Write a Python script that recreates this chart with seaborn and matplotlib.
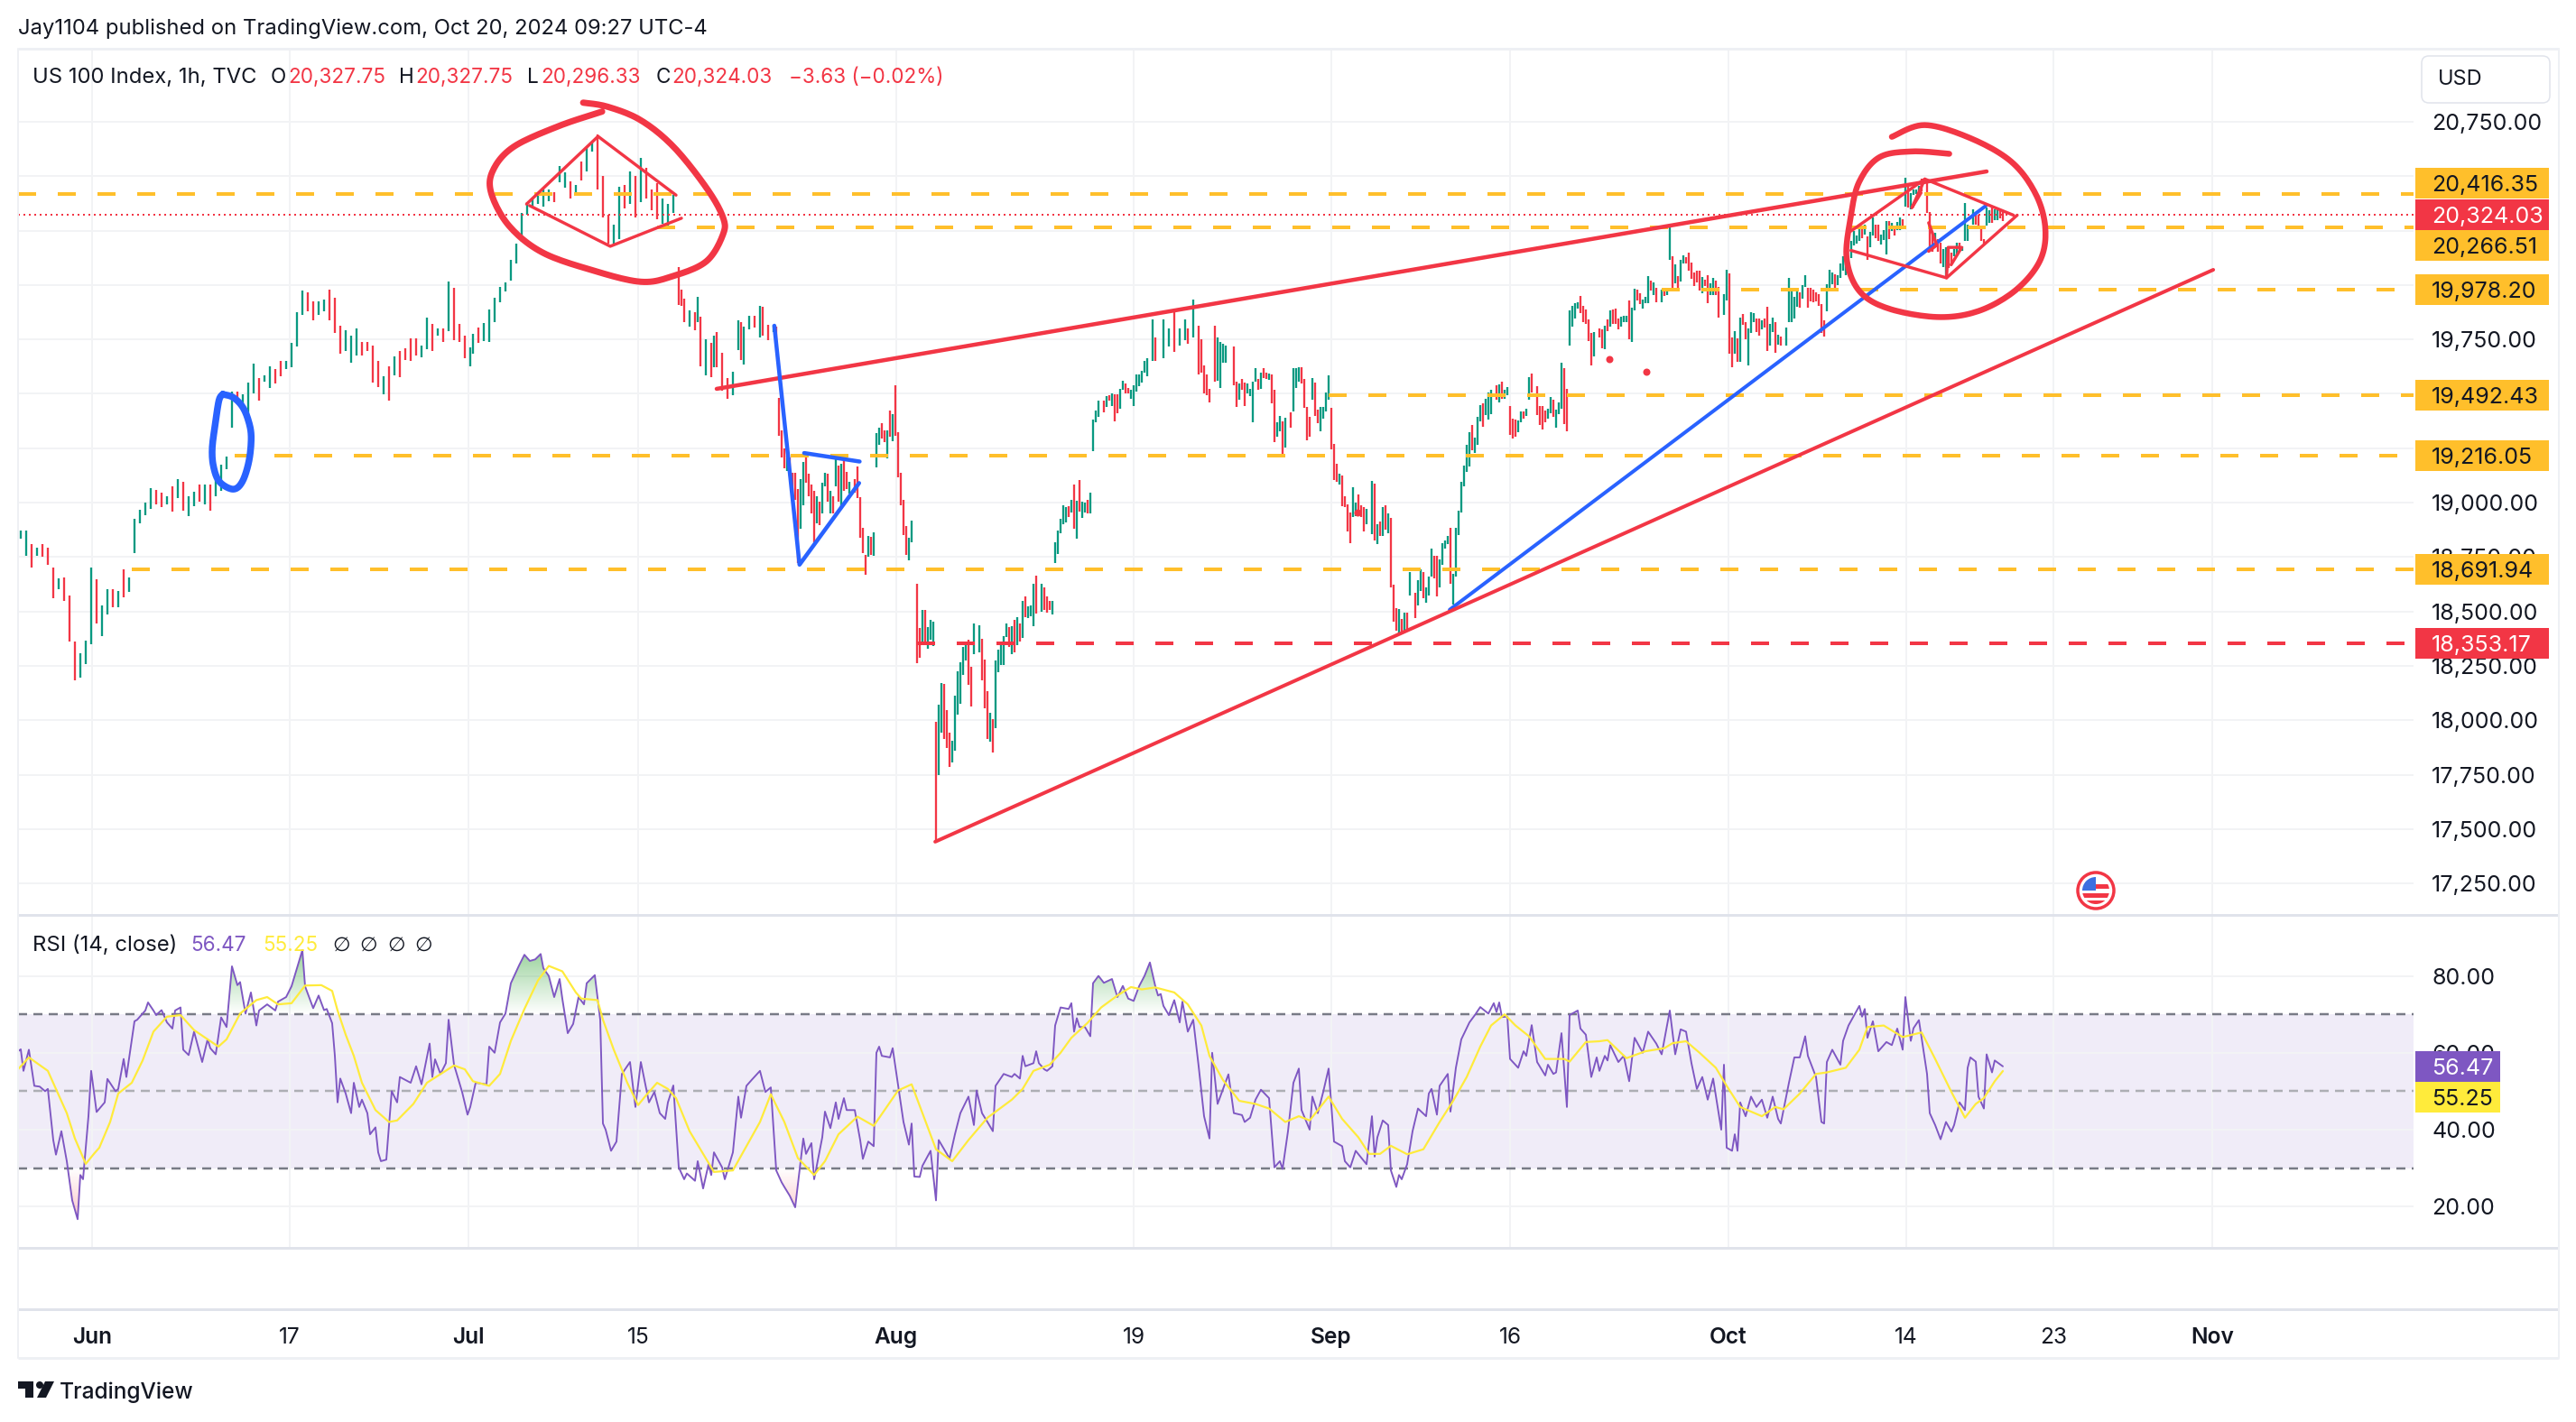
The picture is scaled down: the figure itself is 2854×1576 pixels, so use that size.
import numpy as np
import matplotlib
matplotlib.use("Agg")
import matplotlib.pyplot as plt
from matplotlib.patches import Rectangle, Circle, Polygon, FancyBboxPatch
from matplotlib.path import Path
import seaborn as sns

# ---------- price bars (bar number, high, low, direction 1=up 0=down) ----------
x1 = list(range(1, 166, 2))
hi1 = [18873,18873,18811,18792,18811,18794,18703,18653,18657,18574,
18363,18307,18367,18703,18649,18526,18601,18604,18595,18695,
18657,18927,18969,19002,19068,19060,19044,19030,19073,19110,
19096,19031,19052,19082,19085,19082,19103,19176,19210,19509,
19509,19498,19553,19637,19574,19587,19625,19615,19650,19653,
19733,19874,19974,19965,19924,19924,19933,19978,19940,19812,
19791,19767,19799,19737,19737,19720,19650,19581,19625,19670,
19695,19708,19754,19754,19722,19850,19820,19802,19802,20015,
19989,19823,19767]
lo1 = [18833,18754,18700,18757,18753,18716,18562,18601,18549,18360,
18185,18197,18259,18349,18443,18388,18487,18518,18520,18567,
18591,18767,18907,18944,18972,18992,18979,18992,18958,19020,
18965,18937,18985,19006,18992,18965,19031,19055,19152,19343,
19456,19421,19401,19500,19470,19556,19529,19546,19581,19615,
19622,19719,19864,19878,19837,19864,19878,19837,19778,19684,
19698,19643,19677,19677,19698,19550,19532,19498,19470,19587,
19576,19657,19653,19677,19666,19705,19698,19767,19740,19788,
19747,19740,19664]
up1 = ("1101000100" "0111011010" "1111100101" "0110101111" "0111011001"
       "1110011000" "1110000101" "0000110101" "000")

x2 = [167,168,170,172,174,176,178,180,182,184,
186,188,190,192,194,196,198,200,202,204,
206,208,210,212,214,216,218,220,222,224,
226,228,230,232,234,236,238,240,242,244,
245,246,248,250,251,252,254,256,257,258,
260,262,264,266,267,268,270,272,274,275,
277,279,280,281,282,283,284,285,286,287,
288,289,290,291,292,293,294,295,296,297,
298,299,300,301,302,303,304,305,306,307,
309,310,311,312,313,314,315,316,317,318,
319,320,321,322,323,324,325,326,327,328,
329,330]
hi2 = [19713,19776,19803,19824,19887,19942,19991,20014,20115,20191,
20330,20379,20399,20427,20441,20441,20427,20545,20517,20476,
20458,20568,20635,20656,20690,20503,20323,20277,20452,20458,
20524,20503,20586,20538,20441,20469,20399,20372,20413,20081,
19979,19938,19884,19875,19945,19855,19751,19734,19769,19783,
19688,19571,19600,19838,19828,19808,19859,19859,19903,19898,
19817,19817,19810,19480,19332,19249,19214,19207,19138,19138,
19062,19110,19189,19224,19134,19083,19055,19031,19004,19090,
19138,19134,19055,19031,19221,19169,19180,19194,19141,19094,
19110,19166,19027,18886,18760,18847,18844,18865,19321,19343,
19364,19332,19332,19422,19406,19540,19322,19138,19013,18894,
18840,18919]
lo2 = [19626,19686,19734,19741,19738,19831,19921,19970,20022,20097,
20198,20323,20358,20374,20362,20386,20379,20472,20448,20397,
20420,20480,20524,20614,20441,20309,20191,20191,20212,20351,
20372,20309,20383,20399,20344,20302,20282,20272,20330,19907,
19905,19831,19810,19792,19831,19627,19584,19575,19623,19623,
19515,19478,19492,19699,19655,19634,19796,19803,19758,19769,
19748,19783,19734,19307,19207,19156,19145,19122,19013,19013,
18722,18882,18986,19090,19031,18951,18817,18903,18896,18951,
19076,19004,18951,18951,19076,19004,18972,19055,19062,19041,
19048,19020,18837,18767,18667,18753,18761,18757,19162,19266,
19293,19277,19203,19304,19281,19307,19117,18986,18850,18761,
18733,18817]
up2 = ("1101111111" "1111110110" "1011000110" "1010001110" "0010101010"
       "0011011010" "0100001000" "0110000101" "1010101001" "0000010111"
       "0010100000" "11")

x3 = [332,333,334,335,336,337,338,339,340,341,
342,343,344,345,346,347,348,349,350,351,
352,353,355,356,357,358,359,360,361,362,
363,364,365,366,367,368,369,370,371,372,
373,374,375,376,378,379,380,381,382,383,
384,385,386,387,388,389,390,391,392,393,
394,395,396,397,398,399,401,402,403,404,
405,406,407,408,409,410,411,412,413,414,
415,416,417,419,420,423,425,427,429,431,
432,434,436,437,438,439,440,442,443,444,
445,446,449,450,451,452,453,454,455,456,
457,458,459,460,461,462,463,464,465,466,
467,468,470,471,472,473,474,475,476,477,
478,479,480,481,482,483,484,485,486,487,
488,489,490,491,492]
hi3 = [18628,18426,18505,18505,18427,18462,18455,17994,18073,18170,
18166,18047,17944,17906,18113,18226,18266,18337,18345,18370,
18247,18445,18438,18376,18280,18134,18034,18004,18276,18323,
18359,18385,18445,18427,18433,18462,18473,18445,18549,18569,
18523,18528,18628,18666,18628,18609,18569,18549,18549,18816,
18872,18927,18988,18981,18985,19014,19084,19009,19105,19005,
19000,19014,19047,19381,19424,19467,19467,19491,19493,19503,
19496,19496,19524,19560,19549,19529,19517,19539,19589,19589,
19607,19650,19665,19840,19760,19840,19800,19881,19800,19840,
19800,19935,19813,19750,19632,19591,19524,19813,19760,19740,
19730,19720,19719,19557,19546,19567,19553,19549,19524,19557,
19620,19567,19599,19620,19599,19593,19589,19520,19371,19400,
19374,19391,19413,19617,19620,19622,19624,19567,19438,19396,
19574,19550,19428,19441,19438,19507,19584,19437,19271,19177,
19134,19124,19028,18992,18955]
lo3 = [18263,18287,18345,18345,18330,18370,18342,17439,17747,17944,
17913,17873,17784,17805,17861,18027,18076,18209,18276,18163,
18063,18304,18313,18183,18054,17913,17901,17851,17963,18220,
18256,18256,18383,18335,18304,18312,18345,18362,18380,18473,
18469,18478,18433,18492,18499,18506,18495,18509,18488,18721,
18766,18859,18901,18909,18935,18955,18881,18835,18957,18931,
18955,18952,18952,19238,19371,19396,19414,19438,19467,19446,
19374,19410,19431,19517,19500,19503,19479,19446,19510,19534,
19553,19596,19580,19651,19651,19665,19719,19692,19720,19746,
19730,19759,19589,19599,19503,19493,19460,19557,19560,19529,
19642,19642,19539,19438,19474,19517,19446,19503,19489,19371,
19557,19517,19521,19574,19567,19563,19456,19277,19305,19327,
19224,19255,19346,19420,19529,19557,19546,19434,19285,19305,
19471,19400,19367,19327,19388,19421,19471,19243,19105,19095,
19085,18985,18981,18869,18812]
up3 = ("0010111011" "0001111110" "0110001011" "1110101010" "1110100011"
       "1111010101" "1011110101" "0011001111" "1111011011" "0100000011"
       "1100100111" "1010010011" "0101110000" "1001111000" "10000")

x4 = [493,494,495,496,497,498,500,501,502,503,
504,505,506,507,508,509,510,511,512,513,
514,516,517,518,519,520,521,522,523,524,
525,526,527,528,529,530,531,532,533,534,
535,536,537,538,539,540,541,542,543,544,
546,547,548,549,550,551,552,553,554,555,
556,557,558,559,561,562,563,564,565,566,
567,568,569,570,571,572,573,574,575,576,
577,578,579,580,581,582,584,585,586,587,
588,589,590,591,592,593,594,595,596,597,
598,599,600,601,602,603,604,605,607,608,
609,610,611,612,613,614,615,616,617,618,
619,620,621,622,623,624,625,626,627,628,
630,631,632,633,634,635,636,637,638,639,
640,641,642,643,644,645,646,647,648,649,
650,651,653,654,655,656,657,658,659,660]
hi4 = [19070,19001,19036,18987,18980,18971,19098,19087,18900,18915,
18980,18990,18950,18929,18625,18514,18510,18465,18496,18494,
18680,18584,18642,18693,18680,18610,18662,18791,18755,18755,
18738,18812,18826,18846,18884,18672,18884,18962,19095,19170,
19264,19322,19357,19299,19394,19448,19455,19478,19506,19517,
19538,19543,19554,19518,19531,19444,19388,19382,19377,19419,
19419,19430,19575,19593,19534,19444,19444,19423,19430,19485,
19471,19427,19460,19644,19617,19524,19884,19904,19917,19921,
19948,19904,19886,19842,19780,19783,19801,19796,19813,19842,
19884,19889,19892,19845,19854,19859,19859,19928,19896,19983,
19979,19962,19935,19944,20041,20020,20011,19986,19979,19976,
19973,20267,20132,20094,20041,20114,20135,20128,20149,20103,
20059,20066,20066,20038,20025,20045,20008,20031,20022,19990,
19958,20070,20055,19759,19787,19755,19849,19866,19831,19801,
19875,19870,19845,19845,19838,19845,19900,19821,19849,19828,
19772,19762,19803,20031,19983,19946,19973,19965,20000,20045]
lo4 = [18935,18939,18960,18935,18867,18902,18856,18826,18808,18846,
18846,18877,18860,18611,18452,18411,18400,18404,18411,18411,
18572,18469,18528,18593,18561,18541,18572,18660,18653,18570,
18611,18714,18790,18810,18628,18531,18660,18852,18956,19074,
19142,19167,19240,19229,19264,19375,19350,19402,19381,19405,
19474,19462,19478,19478,19492,19312,19296,19303,19323,19368,
19386,19399,19471,19506,19402,19357,19337,19370,19386,19409,
19393,19344,19406,19433,19361,19329,19723,19810,19848,19893,
19870,19828,19821,19741,19630,19672,19759,19709,19706,19787,
19810,19820,19820,19796,19810,19831,19831,19751,19738,19884,
19931,19911,19893,19917,19917,19976,19953,19921,19921,19948,
19953,20117,19969,20008,19972,20018,20097,20097,20066,20027,
19997,20011,19976,19962,19997,19917,19955,19955,19955,19852,
19861,19931,19686,19624,19686,19647,19648,19817,19752,19630,
19780,19831,19783,19769,19796,19803,19697,19723,19783,19690,
19727,19720,19723,19831,19831,19848,19900,19897,19939,19990]
up4 = ("1100011010" "1010001010" "1011011100" "1111011111" "1101110111"
       "0101100011" "0110000011" "0111001111" "0000010010" "1000111011"
       "0011101010" "1101011000" "0001001100" "1100101001" "1100100110"
       "1011111011")

x5 = [661,662,663,664,665,666,667,668,669,670,
671,672,673,674,675,677,678,679,680,681,
682,683,684,685,686,687,688,689,690,691,
692,693,694,695,696,697,698,699,700,701,
702,703,705,706,707,708,709,710,711,712,
713,714,715,716,717,718,719,720,722,723,
724,725,726,727,728,729,730,731,732,733]
hi5 = [19986,19986,19978,19968,19959,19913,19837,20003,20072,20058,
20051,20044,20097,20131,20162,20201,20248,20228,20259,20259,
20279,20224,20245,20310,20279,20279,20231,20252,20293,20293,
20286,20265,20289,20310,20304,20492,20452,20424,20438,20441,
20456,20487,20480,20335,20231,20238,20210,20196,20165,20172,
20172,20148,20165,20196,20196,20176,20376,20279,20346,20321,
20324,20256,20213,20355,20342,20355,20348,20348,20342,20335]
lo5 = [19897,19927,19920,19927,19906,19778,19764,19879,19986,20003,
19975,20000,20031,20065,20044,20123,20180,20192,20203,20217,
20231,20116,20173,20227,20217,20203,20187,20207,20141,20210,
20248,20228,20252,20252,20266,20362,20355,20348,20413,20417,
20434,20431,20332,20155,20152,20176,20155,20100,20083,20033,
20079,20093,20134,20134,20162,20156,20201,20203,20277,20277,
20259,20203,20189,20272,20286,20286,20296,20296,20307,20293]
up5 = ("0000000111" "0111111110" "1011001110" "1011010111" "1000010011"
       "0011011110" "0001101100")

# ---------- RSI line (bar number, value) ----------
rsi_x1 = [0,1,2,4,6,8,10,11,13,14,16,18,20,22,23,24,26,27,29,32,33,36,37,39,40,43,44,47,48,50,
51,53,55,57,58,60,61,63,65,68,70,71,73,75,77,79,81,82,84,86,88,89,92,95,96,99,101,105,106,109,
111,113,114,116,117,118,119,121,123,124,126,127,129,130,132,133,134,136,138,140,141,145,147,149,152,153,154,156,158,159,
161,164,166,167,169,173,174,176,178,180,182,185,187,189,191,193,194,196,198,200,201,203,205,207,209,210,213,215,216,217,
219,221,223,226,228,230,233,235,237,239,240,242,244,246,247,250,251,253,255,256,257,260,261,264,266,267,269,271,274,276,
278,280,282,283,285,287,290,291,293,294,297,298,300,302,303,305,306,309,311,312,314,316,317,318,319,322,323,327,329,330,
331,333,334,337,339,340,344,346,348,351,353,354,356,358,360,361,364]
rsi_y1 = [60.4,60.9,55.3,60.8,51.4,51.2,50.0,50.6,37.3,33.5,39.6,31.8,21.6,16.7,28.2,27.1,43.5,55.3,44.6,47.1,53.2,50.0,50.6,58.4,53.7,68.2,68.6,71.0,73.1,71.0,
69.8,71.1,67.9,66.3,71.0,71.8,60.8,59.4,65.5,57.6,63.5,61.2,59.6,69.2,66.7,82.5,77.6,78.4,70.2,75.7,67.1,71.0,72.6,71.0,73.3,74.5,77.3,86.7,77.3,71.6,
74.9,71.1,71.4,67.7,59.2,47.1,53.3,49.4,44.3,52.2,45.9,47.8,44.3,38.8,40.6,34.1,31.8,32.2,50.0,47.1,53.7,52.2,56.5,51.8,62.4,53.7,58.3,54.5,57.3,68.6,
56.9,49.8,43.9,45.9,52.2,51.8,61.6,60.0,67.9,70.2,78.1,82.7,85.5,83.9,84.3,85.7,82.0,80.0,74.5,79.2,74.1,65.1,67.5,74.5,72.6,78.1,80.2,68.6,41.6,40.0,
34.5,36.9,54.5,57.6,45.9,57.6,47.1,49.8,44.3,42.8,47.1,51.5,30.2,27.1,28.6,26.7,31.8,24.7,31.0,28.2,34.1,30.2,27.1,34.1,48.6,43.1,51.4,53.0,55.3,49.8,
51.0,29.4,26.3,25.1,22.8,19.8,37.7,33.7,36.5,27.1,38.0,44.7,40.4,47.1,42.8,48.2,45.1,45.1,37.3,32.4,36.9,35.7,60.0,61.6,59.2,58.8,61.2,42.0,36.1,41.6,
27.8,27.7,30.6,34.5,21.6,37.3,32.5,38.8,44.3,48.6,41.2,50.2,44.3,42.0,39.6,51.4,54.5]
rsi_x2 = [367,368,370,371,372,375,376,377,379,380,382,383,385,388,389,390,391,392,394,396,397,399,401,404,406,408,410,412,414,416,
418,420,421,422,423,425,427,429,430,432,434,436,438,440,441,443,447,449,452,453,455,457,459,462,464,466,467,469,471,473,
474,477,478,480,482,484,486,489,490,492,494,498,500,501,502,504,506,507,509,510,511,513,515,517,520,521,522,524,525,528,
529,531,533,536,538,540,543,545,546,547,548,550,551,554,556,557,559,561,564,565,567,568,570,572,573,576,577,579,581,583,
584,586,587,588,591,593,595,597,600,602,605,607,610,612,614,616,618,620,622,624,626,629,630,631,633,634,635,636,638,640,
642,644,646,648,650,651,654,656,658,660,661,664,666,667,668,670,673,674,676,680,681,682,683,685,687,690,692,694,696,697,
699,700,702,705,706,708,710,712,714,715,717,719,720,721,723,724,726,727,729,730,733]
rsi_y2 = [53.7,54.5,53.3,59.2,56.5,57.3,60.4,57.3,55.7,55.3,56.5,67.1,71.8,71.4,72.9,65.5,69.0,66.7,66.7,64.3,78.1,80.0,78.2,79.2,74.5,77.4,74.1,73.5,77.3,80.0,
83.5,77.3,74.9,75.3,72.2,69.8,73.7,67.9,73.3,65.5,68.6,56.5,43.5,37.7,60.0,46.7,54.4,44.3,43.8,42.0,43.1,47.8,50.4,48.2,30.2,31.8,29.8,39.6,52.2,55.9,
45.1,40.0,48.6,44.3,49.8,55.9,36.9,35.7,31.8,30.2,34.5,31.0,43.5,33.0,38.0,42.4,41.2,29.4,25.1,28.2,27.1,31.0,39.6,45.5,43.5,49.4,50.6,43.9,51.4,54.5,
44.7,56.1,63.5,67.9,69.8,71.9,70.2,72.9,70.6,73.1,69.3,69.4,58.4,56.1,60.4,59.2,67.2,57.6,54.1,56.9,54.5,54.9,65.1,45.9,69.8,71.0,66.3,64.7,53.7,58.8,
55.3,59.2,58.0,62.0,57.6,59.2,52.6,63.9,60.0,65.5,62.4,59.6,71.0,59.6,66.1,65.5,57.3,50.6,53.7,47.8,53.3,40.0,56.9,35.3,34.5,38.8,34.5,47.1,43.5,48.6,
45.9,47.8,43.1,48.6,42.8,41.6,52.2,58.8,58.8,64.3,59.2,53.7,42.0,41.6,57.6,60.8,56.9,63.1,67.1,72.2,69.4,71.4,63.9,68.2,60.4,62.8,62.0,66.3,60.8,74.5,
63.1,66.4,68.5,54.5,44.3,41.2,37.5,42.0,39.5,41.2,47.1,45.1,56.1,58.8,57.7,48.6,45.5,59.6,54.9,58.0,56.47]

# ---------- RSI signal line ----------
sig_x = [0,4,7,11,14,18,21,25,28,30,34,37,42,46,50,55,60,65,70,74,77,82,88,92,96,101,106,112,116,118,
121,124,127,132,137,140,146,151,157,161,165,168,174,178,182,187,192,196,201,206,208,214,216,220,225,229,232,236,240,243,
248,253,257,264,269,274,278,283,288,294,298,303,310,316,320,325,330,334,339,345,351,358,367,371,375,381,385,389,395,400,
406,411,415,420,427,432,437,440,445,451,457,462,468,473,477,484,489,495,499,503,507,513,519,525,530,535,540,544,549,553,
558,564,571,573,579,584,587,594,601,608,611,616,621,627,631,636,644,649,652,658,664,668,675,680,683,689,696,703,708,714,
719,723,726,730,733]
sig_y = [55.7,58.8,57.3,55.3,50.6,44.3,37.7,31.1,33.7,35.3,42.0,49.4,52.2,58.0,65.5,69.4,69.8,65.9,63.5,61.6,63.5,70.2,73.7,74.5,72.6,72.9,77.5,77.6,76.1,71.0,
64.7,59.2,52.2,45.1,42.0,42.4,46.7,52.2,54.9,56.7,55.7,52.6,51.4,54.5,63.1,71.4,78.8,82.6,81.2,75.7,74.1,73.7,68.6,60.8,52.2,46.4,49.0,52.2,50.6,48.2,
39.6,33.7,29.0,29.4,35.7,42.0,49.2,42.0,32.6,28.2,31.8,38.8,43.4,41.0,45.1,50.2,51.8,44.3,34.9,31.8,37.3,43.1,47.8,50.6,55.3,56.9,60.0,63.9,67.8,71.8,
74.9,77.1,76.5,77.0,75.7,72.6,67.1,59.2,52.9,47.5,46.7,45.5,42.0,43.5,42.4,48.6,42.8,38.0,33.7,33.7,35.8,33.6,34.9,42.0,47.5,53.7,61.6,67.1,70.0,67.1,
64.3,58.4,58.4,57.7,62.8,63.0,63.3,58.6,60.4,61.2,62.5,63.0,60.0,56.1,51.4,45.9,43.5,45.9,45.3,49.4,54.5,54.9,56.1,60.8,66.7,67.1,64.1,65.3,58.4,49.8,
43.1,46.7,48.2,52.6,55.25]

# ---------- axis content ----------
price_ticks = [20750,20500,20250,20000,19750,19500,19250,19000,18750,18500,18250,18000,17750,17500,17250]
rsi_ticks = [80,60,40,20]
time_labels = ["Jun","17","Jul","15","Aug","19","Sep","16","Oct","14","23","Nov"]
time_bars = [27.3,100.3,166.3,229,324.3,412,485,551,631.7,697.3,751.7,810.3]
month_labels = {"Jun","Jul","Aug","Sep","Oct","Nov"}

level_values = [20416.35,20266.51,19978.20,19492.43,19216.05,18691.94]
level_starts = [0,236,607,484,80,42]
red_level = 18353.17
red_level_start = 332
last_close = 20324.03
rsi_last, sig_last = 56.47, 55.25

# ---------- drawings (bar number, price) ----------
up_trend_x, up_trend_y = [258,727], [19523,20522]
low_trend_x, low_trend_y = [338.7,810.7], [17442,20070]
blue_trend_x, blue_trend_y = [528.7,726.7], [18508,20364]
diamond1a_x, diamond1a_y = [187.8,214.2,243], [20372,20683,20413]
diamond1b_x, diamond1b_y = [188.9,218.7,245], [20365,20178,20307]
diamond2a_x, diamond2a_y = [676.9,704.2,736.9], [20248,20487,20321]
diamond2b_x, diamond2b_y = [676.9,712.2,738.3], [20159,20033,20321]
mini1_x, mini1_y = [704.2,699.4,702.8], [20487,20355,20424]
mini2_x, mini2_y = [705.6,708.6,705.6], [20286,20183,20155]
mini3_x, mini3_y = [712.2,712.8,717.8,713.9], [20033,20173,20173,20093]
blue_tri_x, blue_tri_y = [279.3,288.6,310.6], [19813,18715,19090]
blue_flag_x, blue_flag_y = [290.3,310.8], [19228,19189]
blue_loop_x = [75.6,74.2,72.8,71.7,72.2,74.4,79.4,82.8,85.3,86.1,85,82.8,79.4,75.6]
blue_loop_y = [19498,19470,19359,19248,19165,19096,19062,19096,19193,19304,19380,19442,19484,19498]
circle1_x = [208.7,217.8,230,242.1,254.2,260.3,260.3,254.2,242.1,230,211.8,193.6,181.4,174.8,175.4,183,199.6,215.7]
circle1_y = [20838,20819,20757,20635,20447,20312,20231,20109,20042,20015,20069,20150,20271,20420,20527,20635,20730,20797]
circle2_x = [692,704.1,720.8,736,745.1,748.7,746.6,737.5,723.9,708.7,690.5,679.9,675.3,676.8,679.9,687.4,699.6,713.2]
circle2_y = [20681,20735,20676,20568,20419,20258,20109,19974,19880,19853,19893,19974,20123,20312,20473,20587,20614,20603]
dots_x, dots_y = [587.7,601.2,494.7], [19658,19600,18956]

# ---------- style ----------
UP, DOWN = "#089981", "#F23645"
GOLD = "#FFBF2B"
BLUE = "#2962FF"
TXT = "#131722"
PURPLE, YEL = "#7E57C2", "#FFEB3B"
GRID = "#F2F3F5"
BORDER = "#E0E3EB"
W, H = 2854, 1576
PX = 0.72

sns.set_theme(style="white")
plt.rcParams["font.family"] = ["Inter", "DejaVu Sans"]
plt.rcParams["lines.scale_dashes"] = False
plt.rcParams["axes.unicode_minus"] = False

fig = plt.figure(figsize=(W / 100, H / 100), dpi=100, facecolor="white")
ax1 = fig.add_axes([20 / W, 1 - 1014 / H, 2654 / W, 960 / H])
ax2 = fig.add_axes([20 / W, 1 - 1383 / H, 2654 / W, 369 / H], sharex=ax1)
ov = fig.add_axes([0, 0, 1, 1], zorder=5)
ov.set_xlim(0, W); ov.set_ylim(H, 0); ov.axis("off")

bar_x = np.array(x1 + x2 + x3 + x4 + x5, float)
bar_hi = np.array(hi1 + hi2 + hi3 + hi4 + hi5, float)
bar_lo = np.array(lo1 + lo2 + lo3 + lo4 + lo5, float)
dirs = up1 + up2 + up3 + up4 + up5
assert len(dirs) == len(bar_x) == len(bar_hi) == len(bar_lo)
bar_up = np.array([c == "1" for c in dirs])

for ax in (ax1, ax2):
    for s in ax.spines.values():
        s.set_visible(False)
    ax.set_axisbelow(True)
    ax.grid(True, color=GRID, lw=2 * PX)
    ax.set_xticks(time_bars)

ax1.set_xlim(0, 2654 / 3)
ax1.set_ylim(17105.7, 21085.8)
ax2.set_ylim(9.25, 95.87)

# price bars
ax1.vlines(bar_x[bar_up], bar_lo[bar_up], bar_hi[bar_up], color=UP, lw=2.3 * PX, zorder=2, capstyle="butt")
ax1.vlines(bar_x[~bar_up], bar_lo[~bar_up], bar_hi[~bar_up], color=DOWN, lw=2.3 * PX, zorder=2, capstyle="butt")

# horizontal levels
dash = (0, (20 * PX, 24 * PX))
xmax = 2654 / 3
for v, s in zip(level_values, level_starts):
    ax1.plot([s, xmax], [v, v], color=GOLD, lw=4 * PX, ls=dash, dash_capstyle="butt", zorder=3)
ax1.plot([red_level_start, xmax], [red_level, red_level], color=DOWN, lw=4 * PX, ls=dash, dash_capstyle="butt", zorder=3)
ax1.plot([0, xmax], [last_close, last_close], color=DOWN, lw=2 * PX, ls=(0, (2 * PX, 4 * PX)), zorder=3)


def smooth(xs, ys, k=12):
    """Catmull-Rom rounding of a hand-drawn annotation stroke."""
    p = np.column_stack([xs, ys])
    p = np.vstack([p[0], p, p[-1]])
    out = []
    for i in range(1, len(p) - 2):
        for t in np.linspace(0, 1, k, endpoint=False):
            a, b, c, d = p[i - 1], p[i], p[i + 1], p[i + 2]
            out.append(0.5 * (2 * b + (c - a) * t + (2 * a - 5 * b + 4 * c - d) * t ** 2 + (3 * b - a - 3 * c + d) * t ** 3))
    out.append(p[-2])
    out = np.array(out)
    return out[:, 0], out[:, 1]


def stroke(xs, ys, color, w, z=4):
    ax1.plot(xs, ys, color=color, lw=w * PX, solid_capstyle="round", solid_joinstyle="round", zorder=z)


stroke(up_trend_x, up_trend_y, DOWN, 4.5)
stroke(low_trend_x, low_trend_y, DOWN, 4)
stroke(blue_trend_x, blue_trend_y, BLUE, 4, z=3.5)
for xs, ys in [(diamond1a_x, diamond1a_y), (diamond1b_x, diamond1b_y), (diamond2a_x, diamond2a_y),
               (diamond2b_x, diamond2b_y), (mini1_x, mini1_y), (mini2_x, mini2_y), (mini3_x, mini3_y)]:
    stroke(xs, ys, DOWN, 3.4)
stroke(blue_tri_x, blue_tri_y, BLUE, 4.5)
stroke(blue_flag_x, blue_flag_y, BLUE, 4.5)
stroke(*smooth(blue_loop_x, blue_loop_y), BLUE, 7.5)
stroke(*smooth(circle1_x, circle1_y), DOWN, 7)
stroke(*smooth(circle2_x, circle2_y), DOWN, 6.5)
ax1.scatter(dots_x, dots_y, s=(8 * PX) ** 2, color=DOWN, lw=0, zorder=4)

# RSI pane
rsi_x = np.array(rsi_x1 + rsi_x2, float)
rsi_y = np.array(rsi_y1 + rsi_y2, float)
ax2.axhspan(30, 70, color=PURPLE, alpha=0.11, lw=0, zorder=0.5)
for v, c in [(70, "#787B86"), (50, "#ADAEB4"), (30, "#787B86")]:
    ax2.axhline(v, color=c, lw=2.5 * PX, ls=(0, (10 * PX, 7 * PX)), dash_capstyle="butt", zorder=1)


def gradient(mask_poly, y0, y1, rgb, a0, a1):
    paths = mask_poly.get_paths()
    arr = np.zeros((128, 2, 4))
    arr[..., :3] = np.array(rgb) / 255
    arr[..., 3] = np.linspace(a0, a1, 128)[:, None]
    im = ax2.imshow(arr, extent=[0, xmax, y0, y1], origin="lower", aspect="auto", zorder=1.2)
    im.set_clip_path(Path.make_compound_path(*paths), transform=ax2.transData)


gradient(ax2.fill_between(rsi_x, 70, rsi_y, where=rsi_y >= 70, interpolate=True, color="none", lw=0),
         70, 86, (76, 175, 80), 0.0, 0.55)
gradient(ax2.fill_between(rsi_x, 30, rsi_y, where=rsi_y <= 30, interpolate=True, color="none", lw=0),
         17, 30, (242, 54, 69), 0.28, 0.0)
ax2.set_xlim(0, xmax)
ax2.set_ylim(9.25, 95.87)

sns.lineplot(x=rsi_x, y=rsi_y, ax=ax2, color=PURPLE, lw=1.9 * PX, errorbar=None, estimator=None, sort=False, zorder=2)
sns.lineplot(x=np.array(sig_x, float), y=np.array(sig_y), ax=ax2, color=YEL, lw=2.2 * PX, errorbar=None, estimator=None, sort=False, zorder=3)
ax2.set_xlabel(""); ax2.set_ylabel("")

# ticks
ax1.set_yticks(price_ticks)
ax1.set_yticklabels([f"{v:,.2f}" for v in price_ticks])
ax2.set_yticks(rsi_ticks)
ax2.set_yticklabels([f"{v:.2f}" for v in rsi_ticks])
for ax in (ax1, ax2):
    ax.yaxis.tick_right()
    ax.tick_params(axis="y", length=0, pad=20 * PX, labelsize=25 * PX, labelcolor=TXT)
ax1.tick_params(axis="x", length=0, labelbottom=False)
ax2.set_xticks(time_bars)
ax2.set_xticklabels(time_labels)
ax2.tick_params(axis="x", length=0, pad=88 * PX, labelsize=24.5 * PX, labelcolor=TXT)
for lab in ax2.get_xticklabels():
    if lab.get_text() in month_labels:
        lab.set_fontweight("semibold")


def tag(ax, y, txt, bg, fg, hh, width=148):
    tr = ax.get_yaxis_transform()
    ax.add_patch(Rectangle((1 + 2 / 2654, y - hh), width / 2654, 2 * hh, transform=tr, facecolor=bg,
                           edgecolor="none", clip_on=False, zorder=10))
    ax.text(1 + 20 / 2654, y, txt, transform=tr, color=fg, fontsize=25 * PX, va="center_baseline", ha="left",
            clip_on=False, zorder=11)


hh1 = 17 / 0.2412
tag_pos = [20468, 20182, 19978, 19492, 19216, 18692]
for v, p in zip(level_values, tag_pos):
    tag(ax1, p, f"{v:,.2f}", GOLD, TXT, hh1)
tag(ax1, red_level, f"{red_level:,.2f}", DOWN, "white", hh1)
tag(ax1, last_close, f"{last_close:,.2f}", DOWN, "white", hh1)
hh2 = 17 / 4.26
tag(ax2, rsi_last, f"{rsi_last:.2f}", PURPLE, "white", hh2, 94)
tag(ax2, 48.45, f"{sig_last:.2f}", YEL, TXT, hh2, 94)

# page chrome
for y in (54, 1014, 1383, 1451, 1505):
    c = BORDER if y in (1014, 1383, 1451) else "#EEF0F4"
    ov.plot([20, 2835], [y, y], color=c, lw=3 * PX, solid_capstyle="butt")
ov.plot([20, 20], [54, 1505], color="#EEF0F4", lw=2 * PX)
ov.plot([2835, 2835], [54, 1505], color="#EEF0F4", lw=2 * PX)
ov.add_patch(FancyBboxPatch((2689, 68), 130, 40, boxstyle="round,pad=6,rounding_size=8", fc="white", ec=BORDER, lw=1.5 * PX))
ov.text(2701, 88, "USD", fontsize=23.5 * PX, color=TXT, va="center")

fs = 22.5 * PX
fs_words = 23.8 * PX
ov.text(20, 32, "Jay1104 published on TradingView.com, Oct 20, 2024 09:27 UTC-4", fontsize=fs_words, color=TXT, va="center")
ov.text(36, 86, "US 100 Index, 1h, TVC", fontsize=fs_words, color=TXT, va="center")
for x, s, c in [(300, "O", TXT), (319, "20,327.75", DOWN), (442, "H", TXT), (460, "20,327.75", DOWN),
                (584, "L", TXT), (599, "20,296.33", DOWN), (727, "C", TXT), (744, "20,324.03", DOWN),
                (874, "\u22123.63 (\u22120.02%)", DOWN)]:
    ov.text(x, 86, s, fontsize=fs, color=c, va="center")
ov.text(36, 1048, "RSI (14, close)", fontsize=fs_words, color=TXT, va="center")
ov.text(211, 1048, f"{rsi_last:.2f}", fontsize=fs, color=PURPLE, va="center")
ov.text(291, 1048, f"{sig_last:.2f}", fontsize=fs, color=YEL, va="center")
for x in (378, 408, 439, 469):
    ov.text(x, 1048, "\u2205", fontsize=fs, color=TXT, va="center", ha="center", family=["DejaVu Sans"])

# TradingView logo
ov.add_patch(Polygon([(20, 1531), (37, 1531), (37, 1549), (28, 1549), (28, 1539), (20, 1539)], fc=TXT, ec="none"))
ov.add_patch(Circle((44, 1535), 4, fc=TXT, ec="none"))
ov.add_patch(Polygon([(50, 1531), (60, 1531), (51, 1549), (41, 1549)], fc=TXT, ec="none"))
ov.text(66, 1543, "TradingView", fontsize=24.5 * PX, color=TXT, va="center", fontweight="medium")

# event flag
ov.add_patch(Circle((2322, 987), 20, fc="white", ec=DOWN, lw=3.5 * PX))
clip = Circle((2322, 987), 15, transform=ov.transData)
for yy, hh, col, x0, ww in [(973, 7, "white", 2307, 30), (980, 5, DOWN, 2322, 15), (990, 5, DOWN, 2307, 30),
                             (998, 5, DOWN, 2307, 30), (972, 15, "#3C6FE0", 2307, 15)]:
    r = Rectangle((x0, yy), ww, hh, fc=col, ec="none")
    ov.add_patch(r)
    r.set_clip_path(clip)

fig.savefig("out.png", dpi=100, facecolor="white")
